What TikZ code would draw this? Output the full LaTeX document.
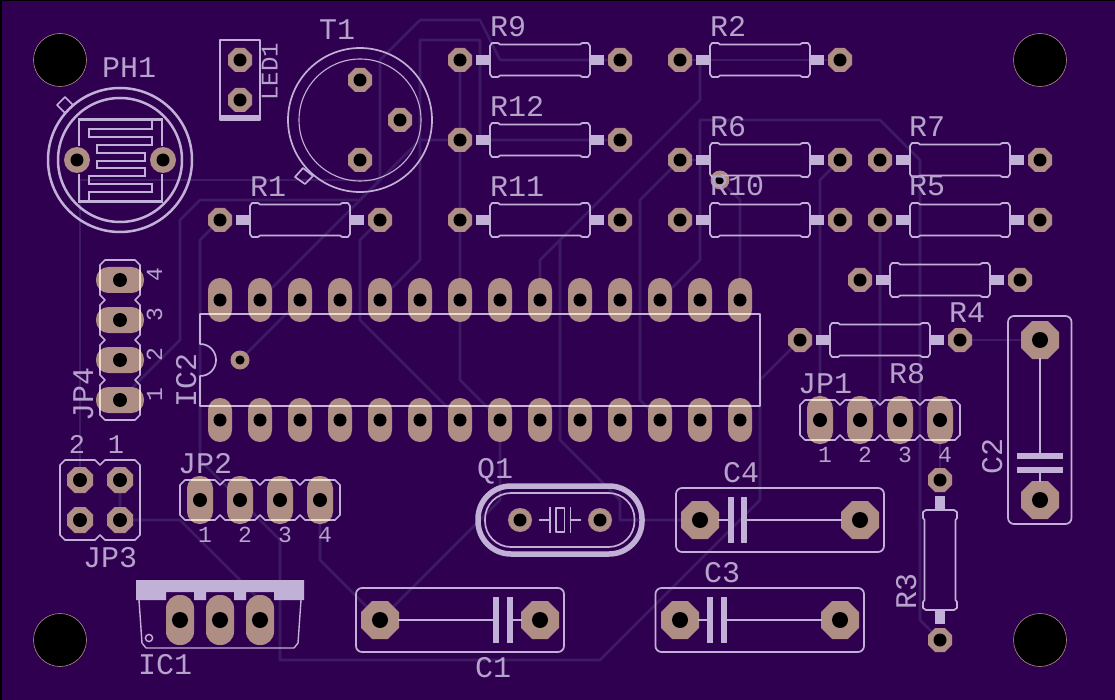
\documentclass[tikz,border=0pt]{standalone}
\usepackage{fontspec}
\setmainfont{Liberation Mono}
\definecolor{board}{HTML}{300050}
\definecolor{copper}{HTML}{3D1A63}
\definecolor{padc}{HTML}{AE8D84}
\definecolor{silk}{HTML}{C2B1D6}
\definecolor{cream}{HTML}{EEDCCB}
\definecolor{silktext}{HTML}{B5A3CB}
\tikzset{
 trace/.style={draw=copper,line width=2.6pt,line join=round,line cap=round},
 silkline/.style={draw=silk,line width=1.7pt,line join=round},
 silkfill/.style={fill=silk},
 creamline/.style={draw=cream,line width=1.7pt},
 lab/.style={text=silktext,inner sep=0pt,anchor=base west,font=\fontsize{30}{30}\selectfont},
 labs/.style={text=silktext,inner sep=0pt,anchor=base,font=\fontsize{23}{23}\selectfont},
 labr/.style={text=silktext,inner sep=0pt,anchor=base west,rotate=90,font=\fontsize{30}{30}\selectfont},
 labsr/.style={text=silktext,inner sep=0pt,anchor=base,rotate=90,font=\fontsize{23}{23}\selectfont},
 resbody/.pic={
  \fill[silk] (-64,-5) rectangle (-50,5);
  \fill[silk] (50,-5) rectangle (64,5);
  \draw[silkline] (-50,-14) -- (-50,14) -- (-48,17) -- (-42,17) -- (-40,15.5) -- (40,15.5) -- (42,17) -- (48,17) -- (50,14) -- (50,-14) -- (48,-17) -- (42,-17) -- (40,-15.5) -- (-40,-15.5) -- (-42,-17) -- (-48,-17) -- cycle;
 }
}
\newcommand\padoct[3]{\fill[padc] ({#1+#3},{#2-.414*#3}) -- ({#1+#3},{#2+.414*#3}) -- ({#1+.414*#3},{#2+#3}) -- ({#1-.414*#3},{#2+#3}) -- ({#1-#3},{#2+.414*#3}) -- ({#1-#3},{#2-.414*#3}) -- ({#1-.414*#3},{#2-#3}) -- ({#1+.414*#3},{#2-#3}) -- cycle;}
\newcommand\holeat[3]{\fill[black] (#1,#2) circle[radius=#3pt];}
\begin{document}
\begin{tikzpicture}[x=1pt,y=-1pt]
\useasboundingbox (0,0) rectangle (1115,700);
\fill[black] (0,0) rectangle (1115,700);
\fill[board] (1.5,1) rectangle (1115,700);
% traces
\draw[trace] (620,60) -- (500,60) -- (480,20) -- (420,20) -- (380,60) -- (380,180) -- (360,200) -- (200,200) -- (180,220) -- (180,340) -- (120,400);
\draw[trace] (620,140) -- (480,140) -- (480,40) -- (420,40) -- (420,260) -- (380,300);
\draw[trace] (80,480) -- (80,180) -- (380,180);
\draw[trace] (220,220) -- (200,240) -- (200,460) -- (280,540) -- (280,660);
\draw[trace] (380,220) -- (360,240) -- (360,320) -- (460,420);
\draw[trace] (260,300) -- (420,140) -- (460,140);
\draw[trace] (240,360) -- (300,300);
\draw[trace] (460,60) -- (460,380) -- (500,420);
\draw[trace] (680,60) -- (840,60);
\draw[trace] (700,60) -- (700,100) -- (540,260) -- (540,300);
\draw[trace] (560,240) -- (560,440) -- (620,500) -- (620,520) -- (700,520);
\draw[trace] (680,160) -- (700,160);
\draw[trace] (660,300) -- (700,260) -- (700,120) -- (880,120) -- (920,160) -- (920,620) -- (940,640);
\draw[trace] (680,160) -- (640,200) -- (640,400) -- (660,420);
\draw[trace] (720,180) -- (740,200) -- (740,300);
\draw[trace] (840,160) -- (820,180) -- (820,420);
\draw[trace] (880,220) -- (880,400) -- (860,420);
\draw[trace] (800,340) -- (760,380) -- (760,500) -- (600,660) -- (280,660);
\draw[trace] (960,340) -- (1040,340);
\draw[trace] (940,420) -- (940,480);
\draw[trace] (120,480) -- (120,520) -- (180,520) -- (260,600) -- (260,620);
\draw[trace] (320,500) -- (320,560) -- (380,620) -- (500,500) -- (500,420);
% pads
\foreach \x in {220,260,...,740}{
 \fill[padc,rounded corners=11.9pt] (\x-12,278) rectangle (\x+12,322);
 \fill[padc,rounded corners=11.9pt] (\x-12,398) rectangle (\x+12,442);
}
\foreach \y in {280,320,360,400}{\fill[padc,rounded corners=12.4pt] (96,\y-13) rectangle (144,\y+13);}
\foreach \x in {200,240,280,320}{\fill[padc,rounded corners=12.4pt] (\x-13,476) rectangle (\x+13,524);}
\foreach \x in {820,860,900,940}{\fill[padc,rounded corners=12.4pt] (\x-13,396) rectangle (\x+13,444);}
\foreach \x in {180,220,260}{\fill[padc,rounded corners=13.4pt] (\x-14,595) rectangle (\x+14,645);}
\foreach \x/\y in {380/620,540/620,680/620,840/620,700/520,860/520,1040/340,1040/500}{\padoct{\x}{\y}{19}}
\foreach \x/\y in {80/480,120/480,80/520,120/520}{\padoct{\x}{\y}{13}}
\foreach \x/\y in {460/60,620/60,460/140,620/140,460/220,620/220,680/60,840/60,680/160,840/160,680/220,840/220,880/160,1040/160,880/220,1040/220,860/280,1020/280,800/340,960/340,220/220,380/220,940/480,940/640,240/60,240/100,360/80,400/120,360/160}{\padoct{\x}{\y}{12}}
\foreach \x/\y in {520/520,600/520}{\fill[padc] (\x,\y) circle[radius=12pt];}
\foreach \x/\y in {77/160,163/160}{\fill[padc] (\x,\y) circle[radius=13pt];}
\foreach \x/\y in {240/360,720/180}{\fill[padc] (\x,\y) circle[radius=9.5pt];}
% silkscreen
\foreach \x/\y in {540/60,540/140,540/220,760/60,760/160,760/220,960/160,960/220,940/280,880/340,300/220}{\pic at (\x,\y) {resbody};}
\pic[rotate=90] at (940,560) {resbody};
% LED1
\draw[silkline] (220,40) rectangle (260,120);
\fill[silk] (220,115.5) rectangle (260,119.5);
% T1
\draw[silkline] (360,120) circle[radius=72pt];
\draw[silk,line width=1.1pt] (360,120) circle[radius=61pt];
\draw[silkline] (295,177) -- (303,168) -- (313,176) -- (305,184) -- cycle;
% PH1
\draw[silk,line width=2.5pt] (120,160) circle[radius=72pt];
\draw[silk,line width=2.5pt] (120,160) circle[radius=62pt];
\draw[silkline] (57,105) -- (65,97) -- (73,105) -- (65,113) -- cycle;
\draw[silk,line width=2.2pt,line join=miter] (79,146) -- (79,119.5) -- (162,119.5) -- (162,146);
\draw[silk,line width=2.2pt,line join=miter] (79,174) -- (79,201.5) -- (162,201.5) -- (162,174);
\draw[silk,line width=2.2pt,line join=miter] (151.7,119) -- (151.7,129.3) -- (89.3,129.3) -- (89.3,137.3) -- (151.7,137.3) -- (151.7,145) -- (96.7,145) -- (96.7,152.7) -- (145,152.7) -- (145,160.7) -- (96.7,160.7) -- (96.7,168.3) -- (145,168.3) -- (145,176) -- (89.3,176) -- (89.3,184) -- (151.7,184) -- (151.7,192.3) -- (89.3,192.3) -- (89.3,201.7);
% IC2
\draw[silkline] (200,344) -- (200,314) -- (760,314) -- (760,406) -- (200,406) -- (200,376) .. controls (210,376) and (216,368) .. (216,360) .. controls (216,352) and (210,344) .. (200,344) -- cycle;
\foreach \x in {220,260,...,740}{\draw[creamline] (\x-11,314) -- (\x+11,314) (\x-11,406) -- (\x+11,406);}
% JP4
\draw[silkline] (105,260) -- (135,260) -- (140,265) -- (140,295) -- (135,300) -- (140,305) -- (140,335) -- (135,340) -- (140,345) -- (140,375) -- (135,380) -- (140,385) -- (140,415) -- (135,420) -- (105,420) -- (100,415) -- (100,385) -- (105,380) -- (100,375) -- (100,345) -- (105,340) -- (100,335) -- (100,305) -- (105,300) -- (100,295) -- (100,265) -- cycle;
\foreach \y in {280,320,360,400}{\draw[creamline] (100,\y-10) -- (100,\y+10) (140,\y-10) -- (140,\y+10);}
% JP2, JP1
\foreach \ox/\oy in {180/480,800/400}{
\begin{scope}[shift={(\ox,\oy)}]
\draw[silkline] (0,5) -- (5,0) -- (35,0) -- (40,5) -- (45,0) -- (75,0) -- (80,5) -- (85,0) -- (115,0) -- (120,5) -- (125,0) -- (155,0) -- (160,5) -- (160,35) -- (155,40) -- (125,40) -- (120,35) -- (115,40) -- (85,40) -- (80,35) -- (75,40) -- (45,40) -- (40,35) -- (35,40) -- (5,40) -- (0,35) -- cycle;
\foreach \p in {20,60,100,140}{\draw[creamline] (\p-9.5,0) -- (\p+9.5,0) (\p-9.5,40) -- (\p+9.5,40);}
\end{scope}}
% JP3
\draw[silkline] (60,465) -- (65,460) -- (95,460) -- (100,465) -- (105,460) -- (135,460) -- (140,465) -- (140,535) -- (135,540) -- (105,540) -- (100,535) -- (95,540) -- (65,540) -- (60,535) -- cycle;
% IC1
\fill[silk] (136,580) -- (304,580) -- (304,600) -- (274,600) -- (274,592) -- (246,592) -- (246,600) -- (234,600) -- (234,592) -- (206,592) -- (206,600) -- (194,600) -- (194,592) -- (166,592) -- (166,600) -- (136,600) -- cycle;
\draw[silk,line width=1.4pt,line join=round] (139,600) -- (142,643) -- (146,648) -- (294,648) -- (298,643) -- (301,600);
\draw[silk,line width=1.4pt] (149,638) circle[radius=3.6pt];
% Capacitors
\draw[silkline,rounded corners=6pt] (356,588) rectangle (564,652);
\draw[silkline] (398,620) -- (496,620) (510,620) -- (522,620);
\draw[silk,line width=5.5pt] (496,597) -- (496,643);
\draw[silk,line width=5.5pt] (510,597) -- (510,643);
\draw[silkline,rounded corners=6pt] (655.5,588) rectangle (864,652);
\draw[silkline] (698,620) -- (710,620) (724,620) -- (822,620);
\draw[silk,line width=5.5pt] (710,597) -- (710,643);
\draw[silk,line width=5.5pt] (724,597) -- (724,643);
\draw[silkline,rounded corners=6pt] (676,488) rectangle (884,552);
\draw[silkline] (718,520) -- (731,520) (744,520) -- (842,520);
\draw[silk,line width=5.5pt] (731,497) -- (731,543);
\draw[silk,line width=5.5pt] (744,497) -- (744,543);
\draw[silkline,rounded corners=6pt] (1008,316) rectangle (1071.5,524);
\draw[silkline] (1040,358) -- (1040,456) (1040,470) -- (1040,482);
\draw[silk,line width=5.5pt] (1017,456) -- (1063,456);
\draw[silk,line width=5.5pt] (1017,470) -- (1063,470);
% Q1
\draw[silk,line width=5.5pt,rounded corners=33pt] (478,486) rectangle (642,554);
\draw[silkline,rounded corners=26pt] (485,493) rectangle (634.5,547);
\draw[silkline] (539,520) -- (550,520) (550,507) -- (550,533) (570.5,507) -- (570.5,533) (570.5,520) -- (581,520);
\draw[silkline] (556,508) rectangle (564.5,532);
% holes
\foreach \x/\y in {60/60,1040/60,60/640,1040/640}{\draw[padc,line width=.6pt,fill=black] (\x,\y) circle[radius=26.5pt];}
\foreach \x in {220,260,...,740}{\holeat{\x}{300}{6.5}\holeat{\x}{420}{6.5}}
\foreach \x/\y in {120/280,120/320,120/360,120/400,200/500,240/500,280/500,320/500,820/420,860/420,900/420,940/420,80/480,120/480,80/520,120/520}{\holeat{\x}{\y}{7}}
\foreach \x/\y in {180/620,220/620,260/620,380/620,540/620,680/620,840/620,700/520,860/520,1040/340,1040/500}{\holeat{\x}{\y}{8}}
\foreach \x/\y in {460/60,620/60,460/140,620/140,460/220,620/220,680/60,840/60,680/160,840/160,680/220,840/220,880/160,1040/160,880/220,1040/220,860/280,1020/280,800/340,960/340,220/220,380/220,940/480,940/640,240/60,240/100,360/80,400/120,360/160,520/520,600/520,77/160,163/160}{\holeat{\x}{\y}{6.5}}
\foreach \x/\y in {240/360,720/180}{\holeat{\x}{\y}{4.6}}
% labels
\foreach \n/\x/\y in {R9/490/37,R2/710/37,R12/490/117,R11/490/197,R6/710/137,R10/710/196,R7/909/137,R5/909/196,R4/949/323,R8/889/383,R1/250/197,PH1/102/78,T1/319/40,JP2/178/473,JP3/83/567,JP1/798/393,IC1/138/674,Q1/477/478,C1/475/677,C3/704/582,C4/723/482}{\node[lab] (t\n) at (\x,\y) {\n};}
\node[labr] (tR3) at (916,610) {R3};
\node[labr] (tC2) at (1002,475) {C2};
\node[labr] (tJP4) at (93,422) {JP4};
\node[labr] (tIC2) at (196,408) {IC2};
\node[labr,font=\fontsize{24}{24}\selectfont] (tLED) at (277.5,101) {LED1};
\foreach \n/\x in {1/205,2/245,3/285,4/325}{\node[labs] (a\n) at (\x,542) {\n};}
\foreach \n/\x in {1/825,2/865,3/905,4/945}{\node[labs] (b\n) at (\x,462) {\n};}
\foreach \n/\y in {4/275,3/315,2/355,1/395}{\node[labsr] (c\n) at (162,\y) {\n};}
\node[labs,font=\fontsize{27}{27}\selectfont] (d2) at (77,453) {2};
\node[labs,font=\fontsize{27}{27}\selectfont] (d1) at (116,453) {1};
\end{tikzpicture}
\end{document}
